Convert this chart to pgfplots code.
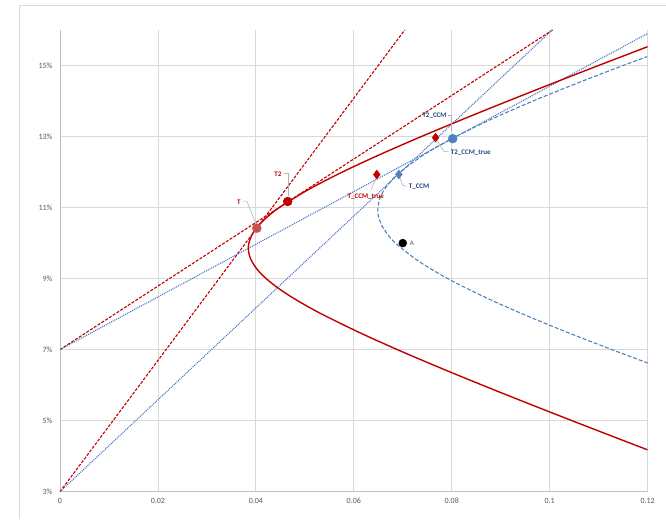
\documentclass[border=0pt]{standalone}
\usepackage{pgfplots}
\pgfplotsset{compat=1.18}
\usepackage{fontspec}
\setmainfont{Carlito}

\definecolor{dred}{RGB}{192,0,0}
\definecolor{lred}{RGB}{200,80,78}
\definecolor{eblue}{RGB}{79,129,189}
\definecolor{dotblue}{RGB}{68,114,196}
\definecolor{lblue}{RGB}{31,73,125}
\definecolor{gridgray}{RGB}{217,217,217}
\definecolor{axgray}{RGB}{191,191,191}
\definecolor{txtgray}{RGB}{89,89,89}

\begin{document}
\begin{tikzpicture}[
  lbl/.style={font=\fontsize{7}{8}\selectfont\bfseries, inner sep=0pt},
  leader/.style={draw=gray!60, line width=0.6pt}]
\begin{axis}[name=ax, scale only axis, width=588pt, height=462pt,
  xmin=0, xmax=0.12, ymin=3, ymax=16,
  xtick={0,0.02,0.04,0.06,0.08,0.1,0.12},
  xticklabels={0,0.02,0.04,0.06,0.08,0.1,0.12},
  ytick={3,5,7,9,11,13,15},
  yticklabels={3\%,5\%,7\%,9\%,11\%,13\%,15\%},
  grid=major, major grid style={gridgray, line width=0.8pt},
  axis x line*=bottom, axis y line*=left,
  axis line style={-, axgray, line width=0.8pt},
  major tick length=0pt,
  tick label style={font=\fontsize{8}{9}\selectfont, text=txtgray},
  xticklabel style={yshift=-3pt}, yticklabel style={xshift=-4pt},
  clip=true]

% capital market lines
\addplot[dred, line width=1.1pt, dash pattern=on 3pt off 1.5pt] coordinates {(0,3) (0.0704,16)};
\addplot[dred, line width=1.1pt, dash pattern=on 3pt off 1.5pt] coordinates {(0,7) (0.1006,16)};
\addplot[dotblue, line width=1.1pt, dash pattern=on 1pt off 1pt] coordinates {(0,3) (0.1005,16)};
\addplot[dotblue, line width=1.1pt, dash pattern=on 1pt off 1pt] coordinates {(0,7) (0.12,15.9)};

% CCM frontier
\addplot[eblue, line width=1.1pt, dash pattern=on 4pt off 2pt, smooth] coordinates {
(0.12009,6.62) (0.11271,7) (0.10337,7.5) (0.09455,8) (0.08642,8.5) (0.07919,9)
(0.07312,9.5) (0.06852,10) (0.06688,10.25) (0.06571,10.5) (0.06505,10.75)
(0.06490,10.94) (0.06530,11.25) (0.06621,11.5) (0.06761,11.75) (0.06947,12)
(0.07445,12.5) (0.08083,13) (0.08830,13.5) (0.09661,14) (0.10557,14.5)
(0.11501,15) (0.11989,15.25)};

% true frontier
\addplot[dred, line width=1.4pt, smooth] coordinates {
(0.11998,4.18) (0.11393,4.5) (0.10456,5) (0.09532,5.5) (0.08625,6) (0.07742,6.5)
(0.06891,7) (0.06086,7.5) (0.05348,8) (0.05013,8.25) (0.04708,8.5) (0.04438,8.75)
(0.04211,9) (0.04033,9.25) (0.03912,9.5) (0.03860,9.7) (0.03847,9.855)
(0.03858,10) (0.03928,10.25) (0.04058,10.5) (0.04244,10.75) (0.04478,11)
(0.05065,11.5) (0.05766,12) (0.06546,12.5) (0.07380,13) (0.08251,13.5)
(0.09149,14) (0.10066,14.5) (0.10998,15) (0.12,15.53)};

% portfolios
\addplot[only marks, mark=diamond*, mark size=4.5pt, mark options={fill=dred, draw=dred}]
  coordinates {(0.0647,11.93) (0.0767,12.97)};
\addplot[only marks, mark=diamond*, mark size=4.5pt, mark options={fill=eblue, draw=eblue}]
  coordinates {(0.0692,11.93)};
\addplot[only marks, mark=*, mark size=4.5pt, mark options={fill=lred, draw=lred}]
  coordinates {(0.0402,10.42)};
\addplot[only marks, mark=*, mark size=4.5pt, mark options={fill=dred, draw=dred}]
  coordinates {(0.0465,11.17)};
\addplot[only marks, mark=*, mark size=4.5pt, mark options={fill=eblue, draw=eblue}]
  coordinates {(0.0802,12.94)};
\addplot[only marks, mark=*, mark size=4pt, mark options={fill=black, draw=black}]
  coordinates {(0.07,10.0)};

% labels with leader lines
\draw[leader] (axis cs:0.03735,11.18) -- (axis cs:0.03816,11.18) -- (axis cs:0.0400,10.56);
\node[lbl, text=dred] at (axis cs:0.03653,11.15) {T};

\draw[leader] (axis cs:0.04571,11.965) -- (axis cs:0.04653,11.965) -- (axis cs:0.04653,11.32);
\node[lbl, text=dred] at (axis cs:0.04449,11.94) {T2};

\draw[leader] (axis cs:0.07918,13.595) -- (axis cs:0.0800,13.595) -- (axis cs:0.0800,13.145);
\node[lbl, text=lblue, anchor=east] at (axis cs:0.07898,13.595) {T2\_CCM};

\draw[leader] (axis cs:0.07714,12.864) -- (axis cs:0.07837,12.583) -- (axis cs:0.07939,12.583);
\node[lbl, text=lblue, anchor=west] at (axis cs:0.0798,12.555) {T2\_CCM\_true};

\draw[leader] (axis cs:0.06939,11.853) -- (axis cs:0.0700,11.628) -- (axis cs:0.07082,11.60);
\node[lbl, text=lblue, anchor=west] at (axis cs:0.0712,11.60) {T\_CCM};

\draw[leader] (axis cs:0.06449,11.825) -- (axis cs:0.06347,11.487);
\node[lbl, text=dred] at (axis cs:0.06245,11.319) {T\_CCM\_true};

\node[font=\fontsize{7}{8}\selectfont, text=txtgray, inner sep=0pt, anchor=west] at (axis cs:0.07143,9.998) {A};
\end{axis}

% chart frame and page extent
\draw[gridgray, line width=0.8pt] ([shift={(-41pt,-27pt)}]ax.south west) -- ([shift={(-41pt,487pt)}]ax.south west) -- ([shift={(606pt,487pt)}]ax.south west);
\path[use as bounding box] ([shift={(-60pt,-27pt)}]ax.south west) rectangle ([shift={(606pt,492pt)}]ax.south west);
\end{tikzpicture}
\end{document}
